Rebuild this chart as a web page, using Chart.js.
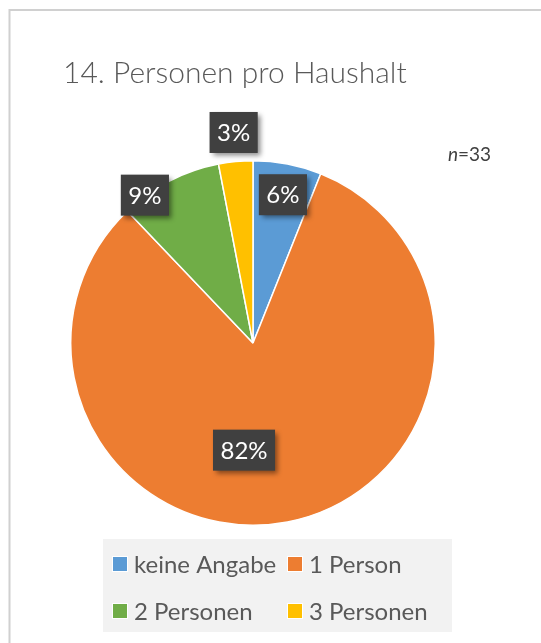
<!DOCTYPE html>
<html><head><meta charset="utf-8">
<script src="https://cdn.jsdelivr.net/npm/chart.js@4/dist/chart.umd.min.js"></script>
<style>html,body{margin:0;padding:0;background:#fff}canvas{display:block}</style>
</head><body>
<canvas id="c" width="541" height="643"></canvas>
<script>
const categories = ['keine Angabe', '1 Person', '2 Personen', '3 Personen'];
const counts = [2, 27, 3, 1];
const sampleSize = 33;
const colors = ['#5B9BD5', '#ED7D31', '#70AD47', '#FFC000'];
const chartTitle = '14. Personen pro Haushalt';
// data label placement per slice: [angle shift in degrees, fraction of radius]
const labelPlacement = [[0.5, 0.83], [15.7, 0.59], [-8.9, 1.005], [0.2, 1.16]];

const FONT = "Lato, 'Open Sans', sans-serif";

const decor = {
  id: 'decor',
  beforeDraw(chart) {
    const ctx = chart.ctx;
    ctx.save();
    ctx.fillStyle = '#fff';
    ctx.fillRect(0, 0, chart.width, chart.height);
    ctx.strokeStyle = '#d0d0d0';
    ctx.lineWidth = 2;
    ctx.strokeRect(9.5, 10, chart.width + 20, chart.height + 20);
    ctx.restore();
  },
  afterDraw(chart) {
    const ctx = chart.ctx;
    ctx.save();
    // title
    ctx.fillStyle = '#595959';
    ctx.font = '300 30px ' + FONT;
    ctx.textBaseline = 'alphabetic';
    ctx.textAlign = 'left';
    ctx.fillText(chartTitle, 63, 83);
    // n = 33
    ctx.fillStyle = '#404040';
    ctx.font = 'italic 19px ' + FONT;
    ctx.fillText('n', 448, 161);
    const nw = ctx.measureText('n').width;
    ctx.font = '19px ' + FONT;
    ctx.fillText('=' + sampleSize, 448 + nw, 161);

    // data labels
    const meta = chart.getDatasetMeta(0);
    const total = counts.reduce((a, b) => a + b, 0);
    meta.data.forEach((arc, i) => {
      const p = arc.getProps(['x', 'y', 'startAngle', 'endAngle', 'outerRadius'], true);
      const mid = (p.startAngle + p.endAngle) / 2 + labelPlacement[i][0] * Math.PI / 180;
      const r = p.outerRadius * labelPlacement[i][1];
      const cx = p.x + Math.cos(mid) * r;
      const cy = p.y + Math.sin(mid) * r;
      const txt = Math.round(counts[i] / total * 100) + '%';
      ctx.font = '24px ' + FONT;
      const tw = ctx.measureText(txt).width;
      const bw = tw + 15, bh = 41;
      ctx.save();
      ctx.shadowColor = 'rgba(0,0,0,0.45)';
      ctx.shadowBlur = 5;
      ctx.shadowOffsetX = 3;
      ctx.shadowOffsetY = 3;
      ctx.fillStyle = '#404040';
      ctx.fillRect(cx - bw / 2, cy - bh / 2, bw, bh);
      ctx.restore();
      ctx.fillStyle = '#ffffff';
      ctx.textAlign = 'center';
      ctx.textBaseline = 'middle';
      ctx.fillText(txt, cx, cy + 1);
    });

    // legend
    ctx.fillStyle = '#f2f2f2';
    ctx.fillRect(103, 539, 349, 93);
    const colX = [113, 288];
    const rowY = [564, 611];
    ctx.font = '24px ' + FONT;
    ctx.textAlign = 'left';
    ctx.textBaseline = 'middle';
    categories.forEach((c, i) => {
      const x = colX[i % 2], y = rowY[Math.floor(i / 2)];
      ctx.fillStyle = '#ffffff';
      ctx.fillRect(x - 1, y - 8, 16, 16);
      ctx.fillStyle = colors[i];
      ctx.fillRect(x, y - 7, 14, 14);
      ctx.fillStyle = '#595959';
      ctx.fillText(c, x + 21, y + 1);
    });
    ctx.restore();
  }
};

new Chart(document.getElementById('c'), {
  type: 'pie',
  data: {
    labels: categories,
    datasets: [{
      data: counts,
      backgroundColor: colors,
      borderColor: '#ffffff',
      borderWidth: 1.5
    }]
  },
  options: {
    responsive: false,
    animation: false,
    layout: { padding: { left: 70, top: 160, right: 105, bottom: 117 } },
    plugins: {
      legend: { display: false },
      title: { display: false },
      tooltip: { enabled: false }
    }
  },
  plugins: [decor]
});
</script>
</body></html>
